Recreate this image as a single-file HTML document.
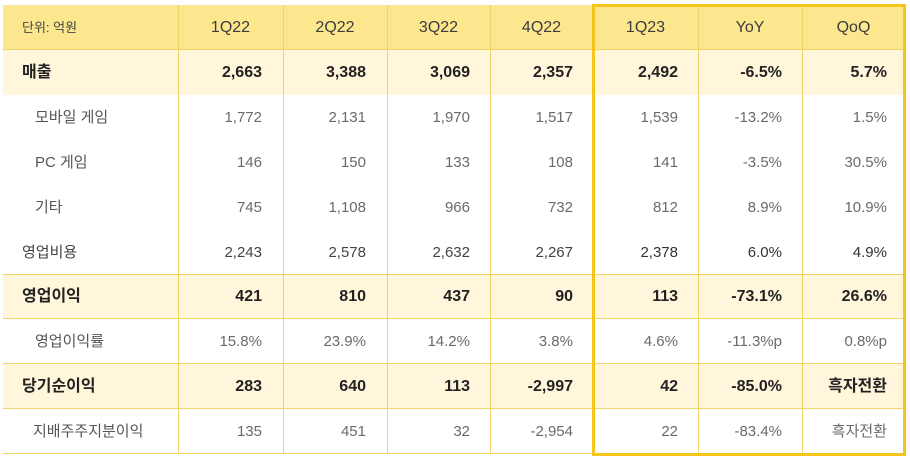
<!DOCTYPE html>
<html><head><meta charset="utf-8">
<style>
html,body{margin:0;padding:0;background:#fff;}
body{width:910px;height:459px;position:relative;overflow:hidden;font-family:"Liberation Sans","Noto Sans CJK KR",sans-serif;}
.bg{position:absolute;left:3px;width:902px;}
.h{position:absolute;left:3px;width:902px;height:1px;background:#f0d468;}
.v{position:absolute;top:5px;width:1px;height:449px;background:#f0d468;}
.row{position:absolute;left:3px;width:902px;height:45px;}
.c{position:absolute;top:0;height:100%;line-height:45px;white-space:nowrap;}
.lab{left:19px;}
.sub .lab{left:32px;}
.n{text-align:right;}
.hd .c{text-align:center;color:#3c3c3c;font-size:16px;}
.b .c{font-weight:bold;color:#222;font-size:16px;}
.sub .c, .pl .c{color:#6a6a6a;font-size:15px;}
.pl .lab{color:#444;font-size:15px;}
.sub .lab{color:#555;font-size:15px;}
.box{position:absolute;left:592px;top:4px;width:308px;height:446px;border:3px solid #f6c519;}
</style></head><body>
<div class="bg" style="top:5px;height:45px;background:#fde78e;"></div>
<div class="bg" style="top:50px;height:45px;background:#fff6dc;"></div>
<div class="bg" style="top:275px;height:44px;background:#fff6dc;"></div>
<div class="bg" style="top:364px;height:45px;background:#fff6dc;"></div>

<div class="h" style="top:49px;"></div>
<div class="h" style="top:274px;"></div>
<div class="h" style="top:318px;"></div>
<div class="h" style="top:363px;"></div>
<div class="h" style="top:408px;"></div>
<div class="h" style="top:453px;"></div>

<div class="v" style="left:178px;"></div>
<div class="v" style="left:283px;"></div>
<div class="v" style="left:387px;"></div>
<div class="v" style="left:490px;"></div>
<div class="v" style="left:698px;"></div>
<div class="v" style="left:802px;"></div>

<div class="row hd" style="top:5px;">
<div class="c" style="left:19px;text-align:left;font-size:13px;color:#444;">단위: 억원</div>
<div class="c" style="left:175px;width:105px;">1Q22</div>
<div class="c" style="left:280px;width:104px;">2Q22</div>
<div class="c" style="left:384px;width:103px;">3Q22</div>
<div class="c" style="left:487px;width:103px;">4Q22</div>
<div class="c" style="left:590px;width:105px;">1Q23</div>
<div class="c" style="left:695px;width:104px;">YoY</div>
<div class="c" style="left:799px;width:103px;">QoQ</div>
</div>

<div class="row b" style="top:50px;">
<div class="c lab">매출</div>
<div class="c n" style="right:643px;">2,663</div>
<div class="c n" style="right:539px;">3,388</div>
<div class="c n" style="right:435px;">3,069</div>
<div class="c n" style="right:332px;">2,357</div>
<div class="c n" style="right:227px;">2,492</div>
<div class="c n" style="right:123px;">-6.5%</div>
<div class="c n" style="right:18px;">5.7%</div>
</div>

<div class="row sub" style="top:95px;">
<div class="c lab">모바일 게임</div>
<div class="c n" style="right:643px;">1,772</div>
<div class="c n" style="right:539px;">2,131</div>
<div class="c n" style="right:435px;">1,970</div>
<div class="c n" style="right:332px;">1,517</div>
<div class="c n" style="right:227px;">1,539</div>
<div class="c n" style="right:123px;">-13.2%</div>
<div class="c n" style="right:18px;">1.5%</div>
</div>

<div class="row sub" style="top:140px;">
<div class="c lab">PC 게임</div>
<div class="c n" style="right:643px;">146</div>
<div class="c n" style="right:539px;">150</div>
<div class="c n" style="right:435px;">133</div>
<div class="c n" style="right:332px;">108</div>
<div class="c n" style="right:227px;">141</div>
<div class="c n" style="right:123px;">-3.5%</div>
<div class="c n" style="right:18px;">30.5%</div>
</div>

<div class="row sub" style="top:185px;">
<div class="c lab">기타</div>
<div class="c n" style="right:643px;">745</div>
<div class="c n" style="right:539px;">1,108</div>
<div class="c n" style="right:435px;">966</div>
<div class="c n" style="right:332px;">732</div>
<div class="c n" style="right:227px;">812</div>
<div class="c n" style="right:123px;">8.9%</div>
<div class="c n" style="right:18px;">10.9%</div>
</div>

<div class="row pl" style="top:230px;">
<div class="c lab">영업비용</div>
<div class="c n" style="right:643px;color:#444;">2,243</div>
<div class="c n" style="right:539px;color:#444;">2,578</div>
<div class="c n" style="right:435px;color:#444;">2,632</div>
<div class="c n" style="right:332px;color:#444;">2,267</div>
<div class="c n" style="right:227px;color:#333;">2,378</div>
<div class="c n" style="right:123px;color:#333;">6.0%</div>
<div class="c n" style="right:18px;color:#333;">4.9%</div>
</div>

<div class="row b" style="top:275px;height:44px;">
<div class="c lab" style="line-height:44px;">영업이익</div>
<div class="c n" style="right:643px;line-height:44px;">421</div>
<div class="c n" style="right:539px;line-height:44px;">810</div>
<div class="c n" style="right:435px;line-height:44px;">437</div>
<div class="c n" style="right:332px;line-height:44px;">90</div>
<div class="c n" style="right:227px;line-height:44px;">113</div>
<div class="c n" style="right:123px;line-height:44px;">-73.1%</div>
<div class="c n" style="right:18px;line-height:44px;">26.6%</div>
</div>

<div class="row sub" style="top:319px;">
<div class="c lab">영업이익률</div>
<div class="c n" style="right:643px;">15.8%</div>
<div class="c n" style="right:539px;">23.9%</div>
<div class="c n" style="right:435px;">14.2%</div>
<div class="c n" style="right:332px;">3.8%</div>
<div class="c n" style="right:227px;">4.6%</div>
<div class="c n" style="right:123px;">-11.3%p</div>
<div class="c n" style="right:18px;">0.8%p</div>
</div>

<div class="row b" style="top:364px;">
<div class="c lab">당기순이익</div>
<div class="c n" style="right:643px;">283</div>
<div class="c n" style="right:539px;">640</div>
<div class="c n" style="right:435px;">113</div>
<div class="c n" style="right:332px;">-2,997</div>
<div class="c n" style="right:227px;">42</div>
<div class="c n" style="right:123px;">-85.0%</div>
<div class="c n" style="right:18px;">흑자전환</div>
</div>

<div class="row sub" style="top:409px;">
<div class="c lab" style="left:30px;">지배주주지분이익</div>
<div class="c n" style="right:643px;">135</div>
<div class="c n" style="right:539px;">451</div>
<div class="c n" style="right:435px;">32</div>
<div class="c n" style="right:332px;">-2,954</div>
<div class="c n" style="right:227px;">22</div>
<div class="c n" style="right:123px;">-83.4%</div>
<div class="c n" style="right:18px;">흑자전환</div>
</div>

<div class="box"></div>
</body></html>
